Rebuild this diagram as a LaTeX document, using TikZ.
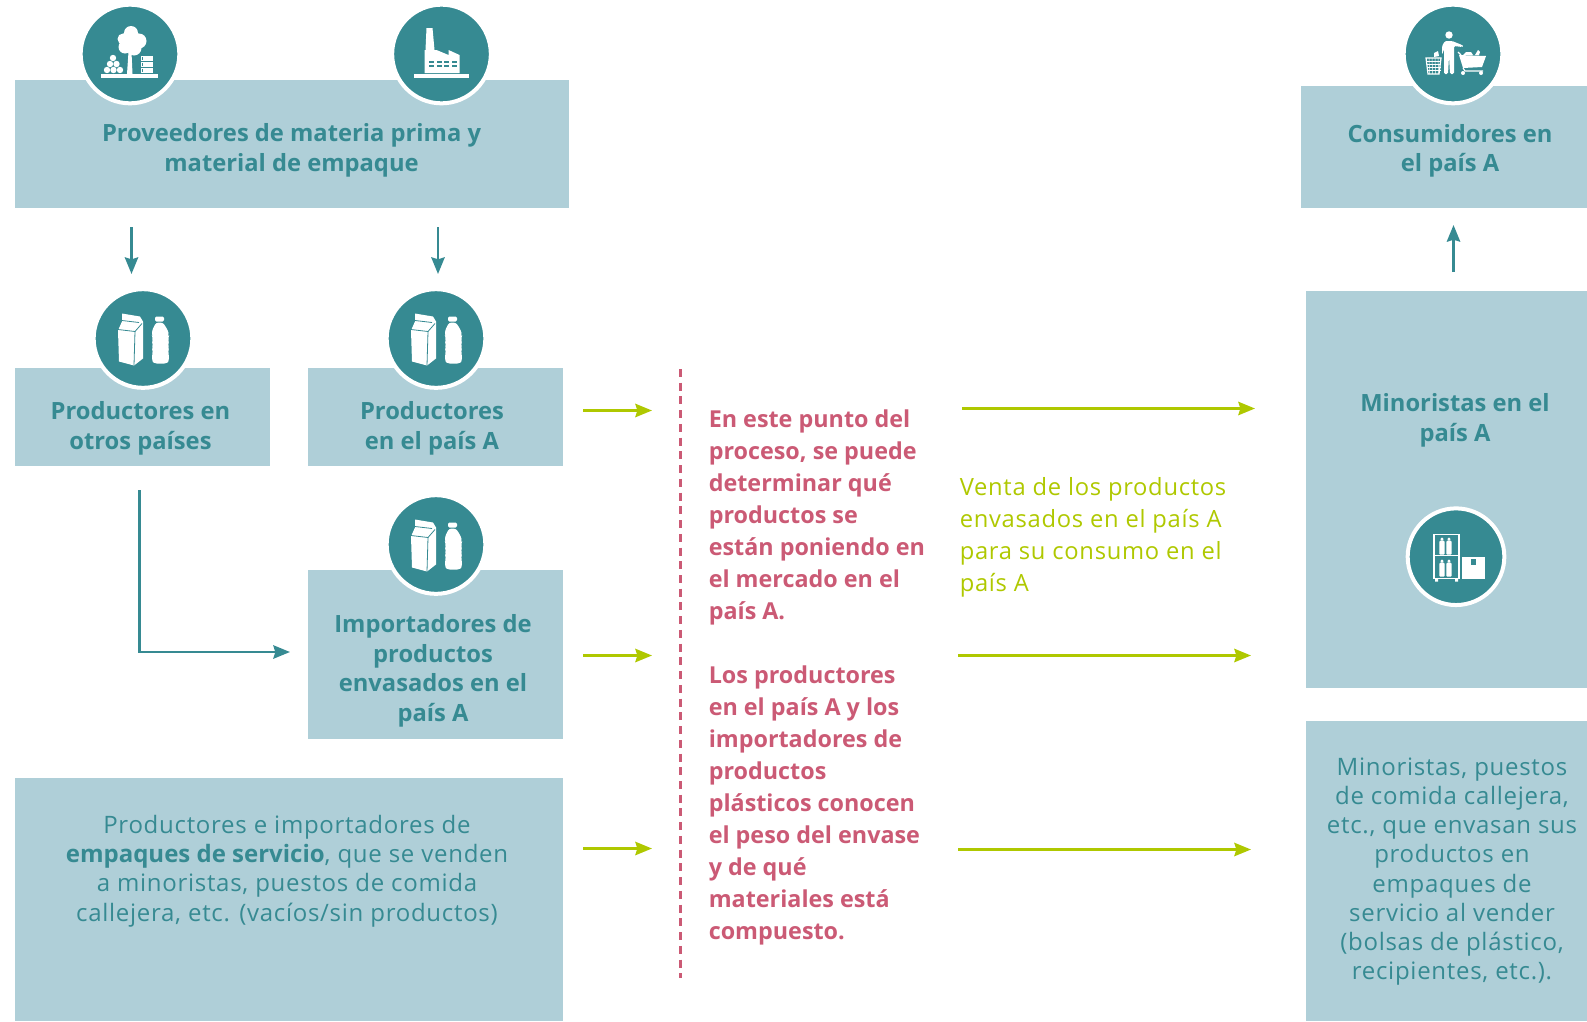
\documentclass[tikz,border=0pt]{standalone}
\usepackage{fontspec}
\setmainfont{Open Sans}
\newfontfamily\widelight[LetterSpace=3]{Open Sans}
\newfontfamily\plainface{Open Sans}
\usetikzlibrary{arrows.meta}
\definecolor{teal1}{HTML}{368A92}
\definecolor{panel}{HTML}{AFCFD8}
\definecolor{lime1}{HTML}{AFC800}
\definecolor{rose1}{HTML}{CB5A75}
\tikzset{
  x=0.75pt,y=-0.75pt,
  panelbox/.style={fill=panel,draw=none,inner sep=0pt,outer sep=0pt,anchor=north west},
  badge/.style={circle,fill=teal1,draw=white,line width=3pt,minimum size=74pt,inner sep=0pt},
  boldlabel/.style={text=teal1,align=center,font=\fontsize{17.8}{22.2}\bfseries\selectfont},
  lightlabel/.style={text=teal1,align=center,font=\widelight\fontsize{18}{21.9}\selectfont},
  flow/.style={draw=teal1,line width=2pt,-{Stealth[length=12.5pt,width=10pt,inset=1.5pt]}},
  sale/.style={draw=lime1,line width=2pt,-{Stealth[length=12.5pt,width=10pt,inset=1.5pt]}},
  pack/.pic={
    \fill[white] (-21,-25)--(-3,-22)--(0,-17)--(0,20)--(-9,27)--(-24,23)--(-25,-8)--(-21,-17)--cycle;
    \draw[teal1,line width=0.6pt] (-25,-9)--(-8,-7)--(-1,-15);
    \draw[teal1,line width=0.6pt] (-21,-18)--(-4,-16);
    \draw[teal1,line width=0.6pt] (-8,-7)--(-9,27);
    \fill[white,rounded corners=1pt] (12,-22) rectangle (21,-17);
    \fill[white,rounded corners=2pt] (13,-16)--(20,-16)--(25,-8)--(26,-3)--(25,-1)--(26,3)--(25,6)--(26,10)--(25,13)--(26,17)--(26,22)--(24,25)--(11,25)--(9,22)--(9,17)--(10,13)--(9,10)--(10,6)--(9,3)--(10,-1)--(9,-3)--(9,-8)--cycle;
  },
  forestry/.pic={
    \fill[white] (-29,20) rectangle (28,24);
    \fill[white] (1,-14) circle (10) (-7,-15) circle (5.5) (9,-13) circle (7.5) (-5,-7) circle (6.5) (4,-6) circle (7.5) (1,-21) circle (7);
    \fill[white] (-1.5,-2)--(1.5,-2)--(2.5,20)--(-3,20)--cycle;
    \foreach \a/\b in {-23/16,-16.5/16,-10/16,-20/10,-13.5/10,-17/4}
      \fill[white] (\a,\b) circle (3.2);
    \foreach \b in {2,8,14}
      \fill[white] (11,\b) rectangle (23,\b+5);
    \foreach \b in {2,8,14}
      \fill[teal1] (11.5,\b+1) rectangle (13,\b+4);
  },
  plant/.pic={
    \fill[white] (-28,20) rectangle (27,24);
    \fill[white] (-15,-26)--(-9,-26)--(-7,-4)--(-5,-4)--(7,1)--(7,-4)--(18,1)--(18,19)--(-17,19)--(-17,-4)--(-16,-4)--cycle;
    \foreach \a in {-13,-5,2,10}
      \foreach \b in {7,10.5}
        \fill[teal1] (\a,\b) rectangle (\a+5,\b+2);
  },
  shopper/.pic={
    \fill[white] (-4,-19) circle (3.7);
    \fill[white,rounded corners=1pt] (-11,-8)--(-8,-13)--(-1,-13)--(9,-9)--(10,-8)--(9,-7)--(1,-8)--(1,20)--(-3,20)--(-4,2)--(-5,20)--(-9,20)--(-9,-5)--(-11,1)--cycle;
    \draw[white,line width=0.9pt] (-27,4)--(-12,4)--(-14,20)--(-25,20)--cycle;
    \foreach \p in {-24,-21,-18,-15}
      \draw[white,line width=0.35pt] (\p,4)--(\p+0.6,20);
    \foreach \q in {7,10,13,16}
      \draw[white,line width=0.35pt] (-26.5,\q)--(-12.5,\q);
    \fill[white] (-19,-1)--(-15,-3)--(-14,2)--(-19,3)--cycle;
    \fill[white] (6,1)--(33,2)--(29,13)--(10,14)--cycle;
    \draw[white,line width=0.9pt] (5,-2)--(8,1) (10,14)--(12,17)--(30,17);
    \fill[white] (10,1)--(13,-2)--(18,-2)--(20,1)--cycle (22,1)--(25,-4)--(27,-2)--(26,1)--cycle;
    \fill[white] (10,19) circle (2) (28,19) circle (2);
  },
  shelf/.pic={
    \draw[white,line width=1pt] (-22,-22) rectangle (3,21.5) (-22,-1)--(3,-1);
    \fill[white] (-21,22) rectangle (-18,25) (-1,22) rectangle (2,25);
    \foreach \a in {-14,-7}
      \foreach \b in {-19,3}{
        \fill[white,rounded corners=0.7pt] (\a-1.3,\b) rectangle (\a+1.3,\b+3);
        \fill[white,rounded corners=0.7pt] (\a-2.6,\b+3) rectangle (\a+2.6,\b+17);
      }
    \fill[white] (6,0) rectangle (29,22);
    \fill[teal1] (15,2) rectangle (20,8);
  }
}
\begin{document}
\begin{tikzpicture}
\useasboundingbox (0,0) rectangle (1587,1021);
% panels
\node[panelbox,minimum width=415.5pt,minimum height=96pt] (supply) at (15,80) {};
\node[panelbox,minimum width=214.5pt,minimum height=91.5pt] (consumers) at (1301,86) {};
\node[panelbox,minimum width=191.25pt,minimum height=73.5pt] (abroad) at (15,368) {};
\node[panelbox,minimum width=191.25pt,minimum height=73.5pt] (local) at (308,368) {};
\node[panelbox,minimum width=191.25pt,minimum height=127pt] (importers) at (308,570) {};
\node[panelbox,minimum width=411pt,minimum height=182.25pt] (service) at (15,778) {};
\node[panelbox,minimum width=210.75pt,minimum height=297.75pt] (retail) at (1306,291) {};
\node[panelbox,minimum width=210.75pt,minimum height=225pt] (vendors) at (1306,721) {};
% badges
\node[badge] (b1) at (130,54) {};
\node[badge] (b2) at (441.5,54) {};
\node[badge] (b3) at (1453,54) {};
\node[badge] (b4) at (143,338.5) {};
\node[badge] (b5) at (436,338.5) {};
\node[badge] (b6) at (436,544.5) {};
\node[badge,minimum size=72.5pt] (b7) at (1456,556.7) {};
\pic at (b1) {forestry};
\pic at (b2) {plant};
\pic at (b3) {shopper};
\pic at (b4) {pack};
\pic at (b5) {pack};
\pic at (b6) {pack};
\pic at (b7) {shelf};
% labels
\node[boldlabel] (t1) at (291.5,150.5) {Proveedores de materia prima y\\material de empaque};
\node[boldlabel] (t2) at (1450,151) {Consumidores en\\el país A};
\node[boldlabel] (t3) at (140.5,428.5) {Productores en\\otros países};
\node[boldlabel] (t4) at (432,428.5) {Productores\\en el país A};
\node[boldlabel] (t5) at (433,671) {Importadores de\\productos\\envasados en el\\país A};
\node[boldlabel] (t6) at (1455,420.5) {Minoristas en el\\país A};
\node[lightlabel] (t7) at (287,871) {Productores e importadores de\\{\plainface\bfseries empaques de servicio}, que se venden\\a minoristas, puestos de comida\\callejera, etc. (vacíos/sin productos)};
\node[lightlabel] (t8) at (1452,871.5) {Minoristas, puestos\\de comida callejera,\\etc., que envasan sus\\productos en\\empaques de\\servicio al vender\\(bolsas de plástico,\\recipientes, etc.).};
\node[anchor=west,align=left,inner sep=0pt,text=rose1,font=\fontsize{17.5}{24}\bfseries\selectfont] (t9) at (708.5,677) {En este punto del\\proceso, se puede\\determinar qué\\productos se\\están poniendo en\\el mercado en el\\país A.\\[24pt]Los productores\\en el país A y los\\importadores de\\productos\\plásticos conocen\\el peso del envase\\y de qué\\materiales está\\compuesto.};
\node[anchor=west,align=left,inner sep=0pt,text=lime1,font=\widelight\fontsize{17.8}{24}\selectfont] (t10) at (959.5,537) {Venta de los productos\\envasados en el país A\\para su consumo en el\\país A};
% connector ends
\coordinate (a1s) at (131.5,227); \coordinate (a1e) at (131.5,274);
\coordinate (a2s) at (438,227); \coordinate (a2e) at (438,274);
\coordinate (a3s) at (1453.5,272); \coordinate (a3e) at (1453.5,225);
\coordinate (a4s) at (139.5,490); \coordinate (a4m) at (139.5,652); \coordinate (a4e) at (290,652);
\coordinate (g1s) at (583,410.5); \coordinate (g1e) at (652,410.5);
\coordinate (g2s) at (583,655.5); \coordinate (g2e) at (652,655.5);
\coordinate (g3s) at (583,848.5); \coordinate (g3e) at (652,848.5);
\coordinate (g4s) at (962,408.5); \coordinate (g4e) at (1255,408.5);
\coordinate (g5s) at (958,655.5); \coordinate (g5e) at (1251,655.5);
\coordinate (g6s) at (958,849.5); \coordinate (g6e) at (1251,849.5);
\coordinate (d1) at (680.5,369); \coordinate (d2) at (680.5,978);
\draw[flow] (a1s) -- (a1e);
\draw[flow] (a2s) -- (a2e);
\draw[flow] (a3s) -- (a3e);
\draw[flow] (a4s) -- (a4m) -- (a4e);
\draw[sale] (g1s) -- (g1e);
\draw[sale] (g2s) -- (g2e);
\draw[sale] (g3s) -- (g3e);
\draw[sale] (g4s) -- (g4e);
\draw[sale] (g5s) -- (g5e);
\draw[sale] (g6s) -- (g6e);
\draw[rose1,line width=2pt,dash pattern=on 6pt off 4.3pt] (d1) -- (d2);
\end{tikzpicture}
\end{document}
